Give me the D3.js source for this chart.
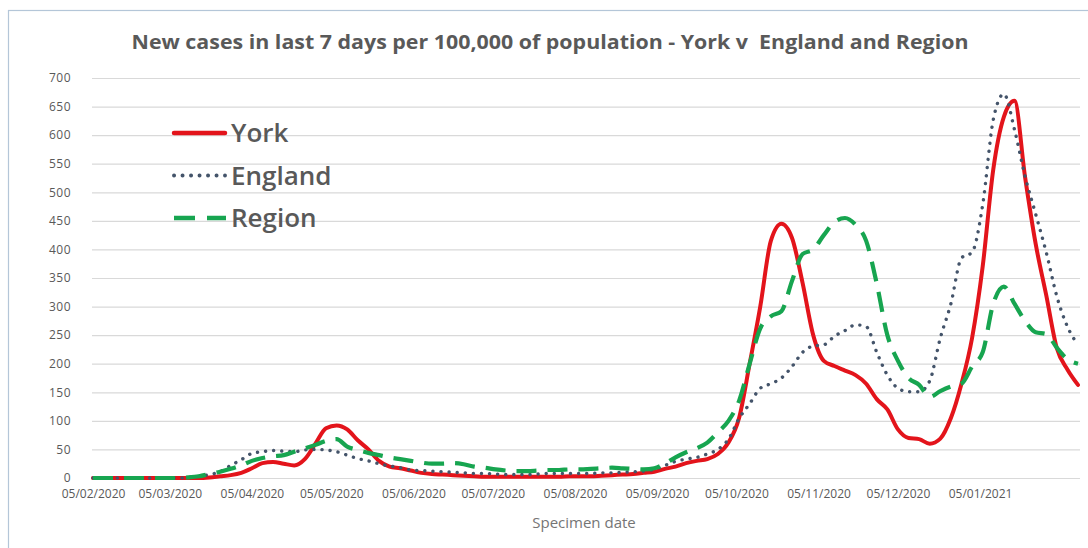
<!DOCTYPE html>
<html>
<head>
<meta charset="utf-8">
<script src="https://cdn.jsdelivr.net/npm/d3@7"></script>
<style>
  body { margin: 0; background: #fff; }
  #chart text { font-family: "Open Sans", sans-serif; }
</style>
</head>
<body>
<div id="chart"></div>
<script>
// data: one reading every 4 days from 05/02/2020
const dates = d3.timeDay.range(new Date(2020, 1, 5), new Date(2021, 1, 12), 4);

const york = [
  0, 0, 0, 0, 0, 0, 0, 0, 0, 0,
  0, 1, 3, 5, 9, 17, 26, 28, 25, 22,
  33, 60, 87, 92, 85, 66, 50, 30, 20, 17,
  13, 9, 7, 6, 5, 4, 3, 2, 2, 2,
  2, 2, 2, 2, 2, 3, 3, 3, 4, 5,
  6, 7, 9, 11, 16, 20, 26, 30, 33, 42,
  62, 105, 200, 300, 415, 445, 420, 341, 250, 205,
  196, 188, 180, 165, 138, 120, 85, 70, 68, 60,
  69, 105, 165, 245, 370, 540, 632, 660, 527, 410,
  320, 227, 190, 163
];

const england = [
  0, 0, 0, 0, 0, 0, 0, 0, 0, 1,
  3, 6, 11, 22, 32, 43, 46, 48, 47, 46,
  49, 50, 49, 46, 40, 34, 30, 25, 21, 18,
  14, 13, 12, 11, 10, 9, 8, 8, 7, 6,
  6, 6, 7, 8, 8, 8, 8, 8, 9, 9,
  10, 11, 12, 15, 22, 29, 33, 36, 42, 50,
  68, 104, 130, 157, 165, 175, 195, 220, 231, 233,
  248, 258, 268, 265, 220, 180, 157, 151, 151, 170,
  245, 305, 385, 395, 478, 627, 672, 610, 528, 462,
  395, 318, 265, 233
];

const region = [
  0, 0, 0, 0, 0, 0, 0, 0, 0, 1,
  3, 7, 11, 16, 22, 30, 35, 38, 40, 46,
  52, 58, 65, 68, 55, 49, 44, 40, 36, 33,
  30, 27, 25, 25, 26, 24, 20, 18, 15, 13,
  12, 12, 13, 14, 14, 15, 15, 16, 17, 18,
  17, 16, 15, 17, 25, 36, 45, 52, 62, 80,
  100, 135, 200, 262, 283, 292, 345, 392, 400, 425,
  448, 455, 443, 415, 340, 250, 205, 175, 163, 142,
  152, 160, 165, 195, 220, 305, 335, 305, 275, 255,
  252, 228, 208, 200
];

const seriesNames = ["York", "England", "Region"];
const tickLabels = [
  "05/02/2020", "05/03/2020", "05/04/2020", "05/05/2020", "05/06/2020", "05/07/2020",
  "05/08/2020", "05/09/2020", "05/10/2020", "05/11/2020", "05/12/2020", "05/01/2021"
];
const yTicks = d3.range(0, 701, 50);

const W = 1088, H = 548;
const plotLeft = 92, plotRight = 1080, plotTop = 78, plotBottom = 478;

const parseDate = d3.timeParse("%d/%m/%Y");
const fmtDate = d3.timeFormat("%d/%m/%Y");
const tickDates = tickLabels.map(parseDate);

const svg = d3.select("#chart").append("svg")
  .attr("width", W)
  .attr("height", H);

// frame
svg.append("rect")
  .attr("x", 8.5).attr("y", 10.5)
  .attr("width", W + 20).attr("height", H + 20)
  .attr("fill", "#fff")
  .attr("stroke", "#b4c6d8")
  .attr("stroke-width", 1.2);

const x = d3.scaleTime()
  .domain([dates[0], dates[dates.length - 1]])
  .range([plotLeft + 1, 1078]);

const y = d3.scaleLinear()
  .domain([0, 700])
  .range([plotBottom, plotTop]);

// y axis + gridlines
const yAxis = svg.append("g")
  .attr("transform", `translate(${plotLeft},0)`)
  .call(d3.axisLeft(y).tickValues(yTicks).tickSize(-(plotRight - plotLeft)).tickPadding(21));
yAxis.select(".domain").remove();
yAxis.selectAll("line").attr("stroke", "#d9d9d9").attr("stroke-width", 1.2);
yAxis.selectAll("text")
  .attr("fill", "#595959")
  .attr("font-size", "12px")
  .attr("letter-spacing", "0.5px");

// x axis labels
const xAxis = svg.append("g")
  .attr("transform", `translate(0,${plotBottom})`)
  .call(d3.axisBottom(x).tickValues(tickDates).tickSize(0).tickPadding(11)
    .tickFormat(fmtDate));
xAxis.select(".domain").remove();
xAxis.selectAll("text")
  .attr("fill", "#595959")
  .attr("font-size", "12px");

// lines
const line = d3.line()
  .x((d, i) => x(dates[i]))
  .y(d => y(d))
  .curve(d3.curveMonotoneX);

const styles = {
  York: { color: "#e3141b", width: 4, dash: null, cap: "round" },
  England: { color: "#44546a", width: 3.4, dash: "0.1 8", cap: "round" },
  Region: { color: "#17a550", width: 4.2, dash: "20 11", cap: "butt" }
};
const values = { York: york, England: england, Region: region };

seriesNames.forEach(name => {
  const s = styles[name];
  svg.append("path")
    .datum(values[name])
    .attr("fill", "none")
    .attr("stroke", s.color)
    .attr("stroke-width", s.width)
    .attr("stroke-linecap", s.cap)
    .attr("stroke-linejoin", "round")
    .attr("stroke-dasharray", s.dash)
    .attr("d", line);
});

// legend
const legend = svg.append("g");
seriesNames.forEach((name, i) => {
  const s = styles[name];
  const ly = 133 + i * 42.5;
  legend.append("line")
    .attr("x1", 174).attr("x2", name === "Region" ? 226 : 225)
    .attr("y1", ly).attr("y2", ly)
    .attr("stroke", s.color)
    .attr("stroke-width", s.width + 0.5)
    .attr("stroke-linecap", s.cap)
    .attr("stroke-dasharray", name === "Region" ? "21 12" : (name === "England" ? "0.1 8.4" : null));
  legend.append("text")
    .attr("x", 231)
    .attr("y", ly + 9)
    .attr("fill", "#595959")
    .attr("font-size", "26px")
    .attr("font-weight", 600)
    .text(name);
});

// title
svg.append("text")
  .attr("x", 550)
  .attr("y", 49)
  .attr("text-anchor", "middle")
  .attr("fill", "#595959")
  .attr("font-size", "19px")
  .attr("font-weight", 700)
  .attr("textLength", 837)
  .attr("lengthAdjust", "spacingAndGlyphs")
  .style("white-space", "pre")
  .text("New cases in last 7 days per 100,000 of population - York v  England and Region");

// axis title
svg.append("text")
  .attr("x", 584)
  .attr("y", 528)
  .attr("text-anchor", "middle")
  .attr("fill", "#757575")
  .attr("font-size", "15px")
  .text("Specimen date");
</script>
</body>
</html>
